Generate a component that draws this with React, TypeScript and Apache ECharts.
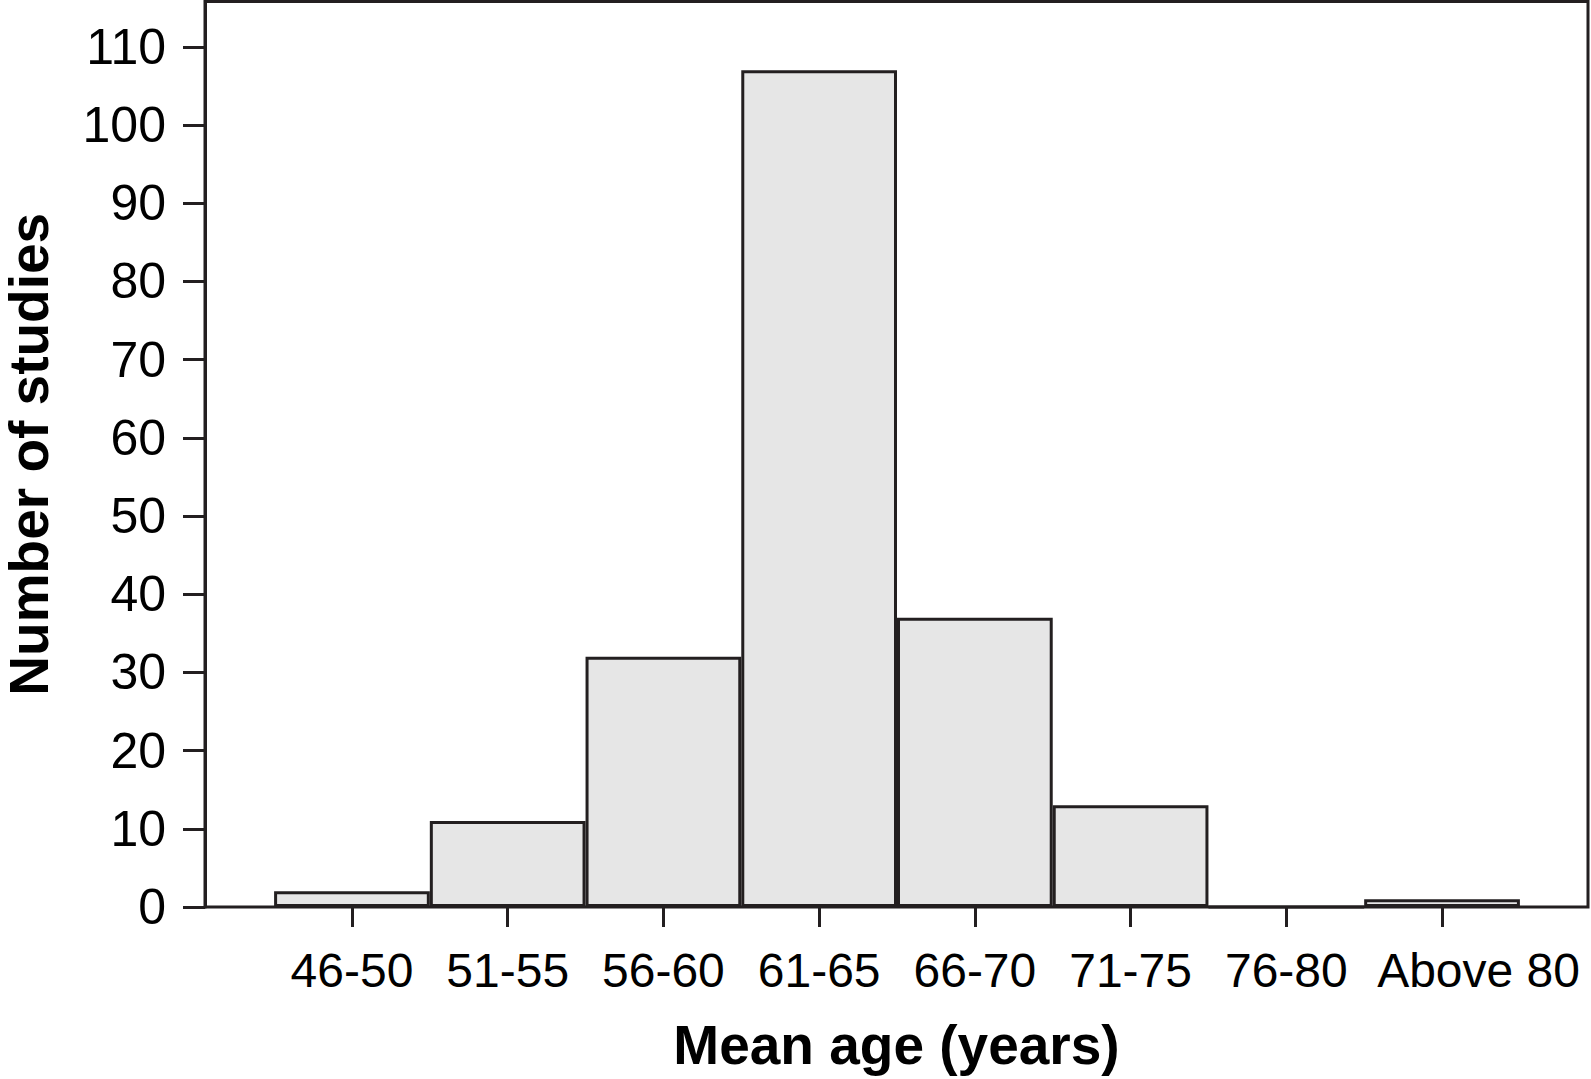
import React, { useEffect, useRef } from "react";
import * as echarts from "echarts";

const categories = ["46-50", "51-55", "56-60", "61-65", "66-70", "71-75", "76-80", "Above 80"];
const studies = [2, 11, 32, 107, 37, 13, 0, 1];
const yTicks = [0, 10, 20, 30, 40, 50, 60, 70, 80, 90, 100, 110];
const yMax = 115.8;
const xTitle = "Mean age (years)";
const yTitle = "Number of studies";

const INK = "#231f20";
const FONT = "'Liberation Sans', Arial, Helvetica, sans-serif";

export default function App() {
  const ref = useRef<HTMLDivElement>(null);
  useEffect(() => {
    if (!ref.current) return;
    const chart = echarts.init(ref.current, undefined, { renderer: "svg" });
    const catData = categories.map((c, i) =>
      i === categories.length - 1
        ? { value: c, textStyle: { padding: [0, 0, 0, 73] } }
        : c
    );
    chart.setOption({
      animation: false,
      backgroundColor: "#ffffff",
      grid: [
        {
          left: 205,
          right: 3,
          top: 1.5,
          bottom: 172,
          containLabel: false,
          outerBoundsMode: "none",
          show: true,
          borderColor: INK,
          borderWidth: 3,
          backgroundColor: "transparent",
        },
        {
          left: 274.1,
          right: 71.1,
          top: 1.5,
          bottom: 172,
          containLabel: false,
          outerBoundsMode: "none",
        },
      ],
      xAxis: [
        {
          gridIndex: 0,
          type: "value",
          min: 0,
          max: 1,
          axisLine: { show: false },
          axisTick: { show: false },
          axisLabel: { show: false },
          splitLine: { show: false },
          name: xTitle,
          nameLocation: "middle",
          nameGap: 110,
          nameTextStyle: { fontFamily: FONT, fontSize: 55, fontWeight: "bold", color: "#000" },
        },
        {
          gridIndex: 1,
          type: "category",
          data: catData,
          boundaryGap: true,
          axisLine: { show: false },
          axisTick: {
            show: true,
            alignWithLabel: true,
            length: 20,
            lineStyle: { color: INK, width: 3 },
          },
          axisLabel: {
            interval: 0,
            margin: 39,
            fontFamily: FONT,
            fontSize: 48,
            color: "#000",
          },
          splitLine: { show: false },
        },
      ],
      yAxis: [
        {
          gridIndex: 0,
          type: "value",
          min: 0,
          max: yMax,
          axisLine: { show: true, lineStyle: { color: INK, width: 3 } },
          axisTick: {
            show: true,
            length: 22,
            customValues: yTicks,
            lineStyle: { color: INK, width: 3 },
          },
          axisLabel: {
            customValues: yTicks,
            margin: 39,
            fontFamily: FONT,
            fontSize: 50,
            color: "#000",
          },
          splitLine: { show: false },
          name: yTitle,
          nameLocation: "middle",
          nameGap: 153,
          nameTextStyle: {
            fontFamily: FONT,
            fontSize: 55,
            lineHeight: 46,
            fontWeight: "bold",
            color: "#000",
          },
        },
        {
          gridIndex: 1,
          type: "value",
          min: 0,
          max: yMax,
          show: false,
        },
      ],
      series: [
        {
          type: "bar",
          xAxisIndex: 1,
          yAxisIndex: 1,
          data: studies,
          barWidth: "100%",
          itemStyle: { color: "#e6e6e6", borderColor: INK, borderWidth: 3 },
        },
      ],
    });
    return () => chart.dispose();
  }, []);
  return (
    <div
      ref={ref}
      style={{ position: "fixed", left: 0, top: 0, width: 1591, height: 1079, background: "#fff" }}
    />
  );
}
